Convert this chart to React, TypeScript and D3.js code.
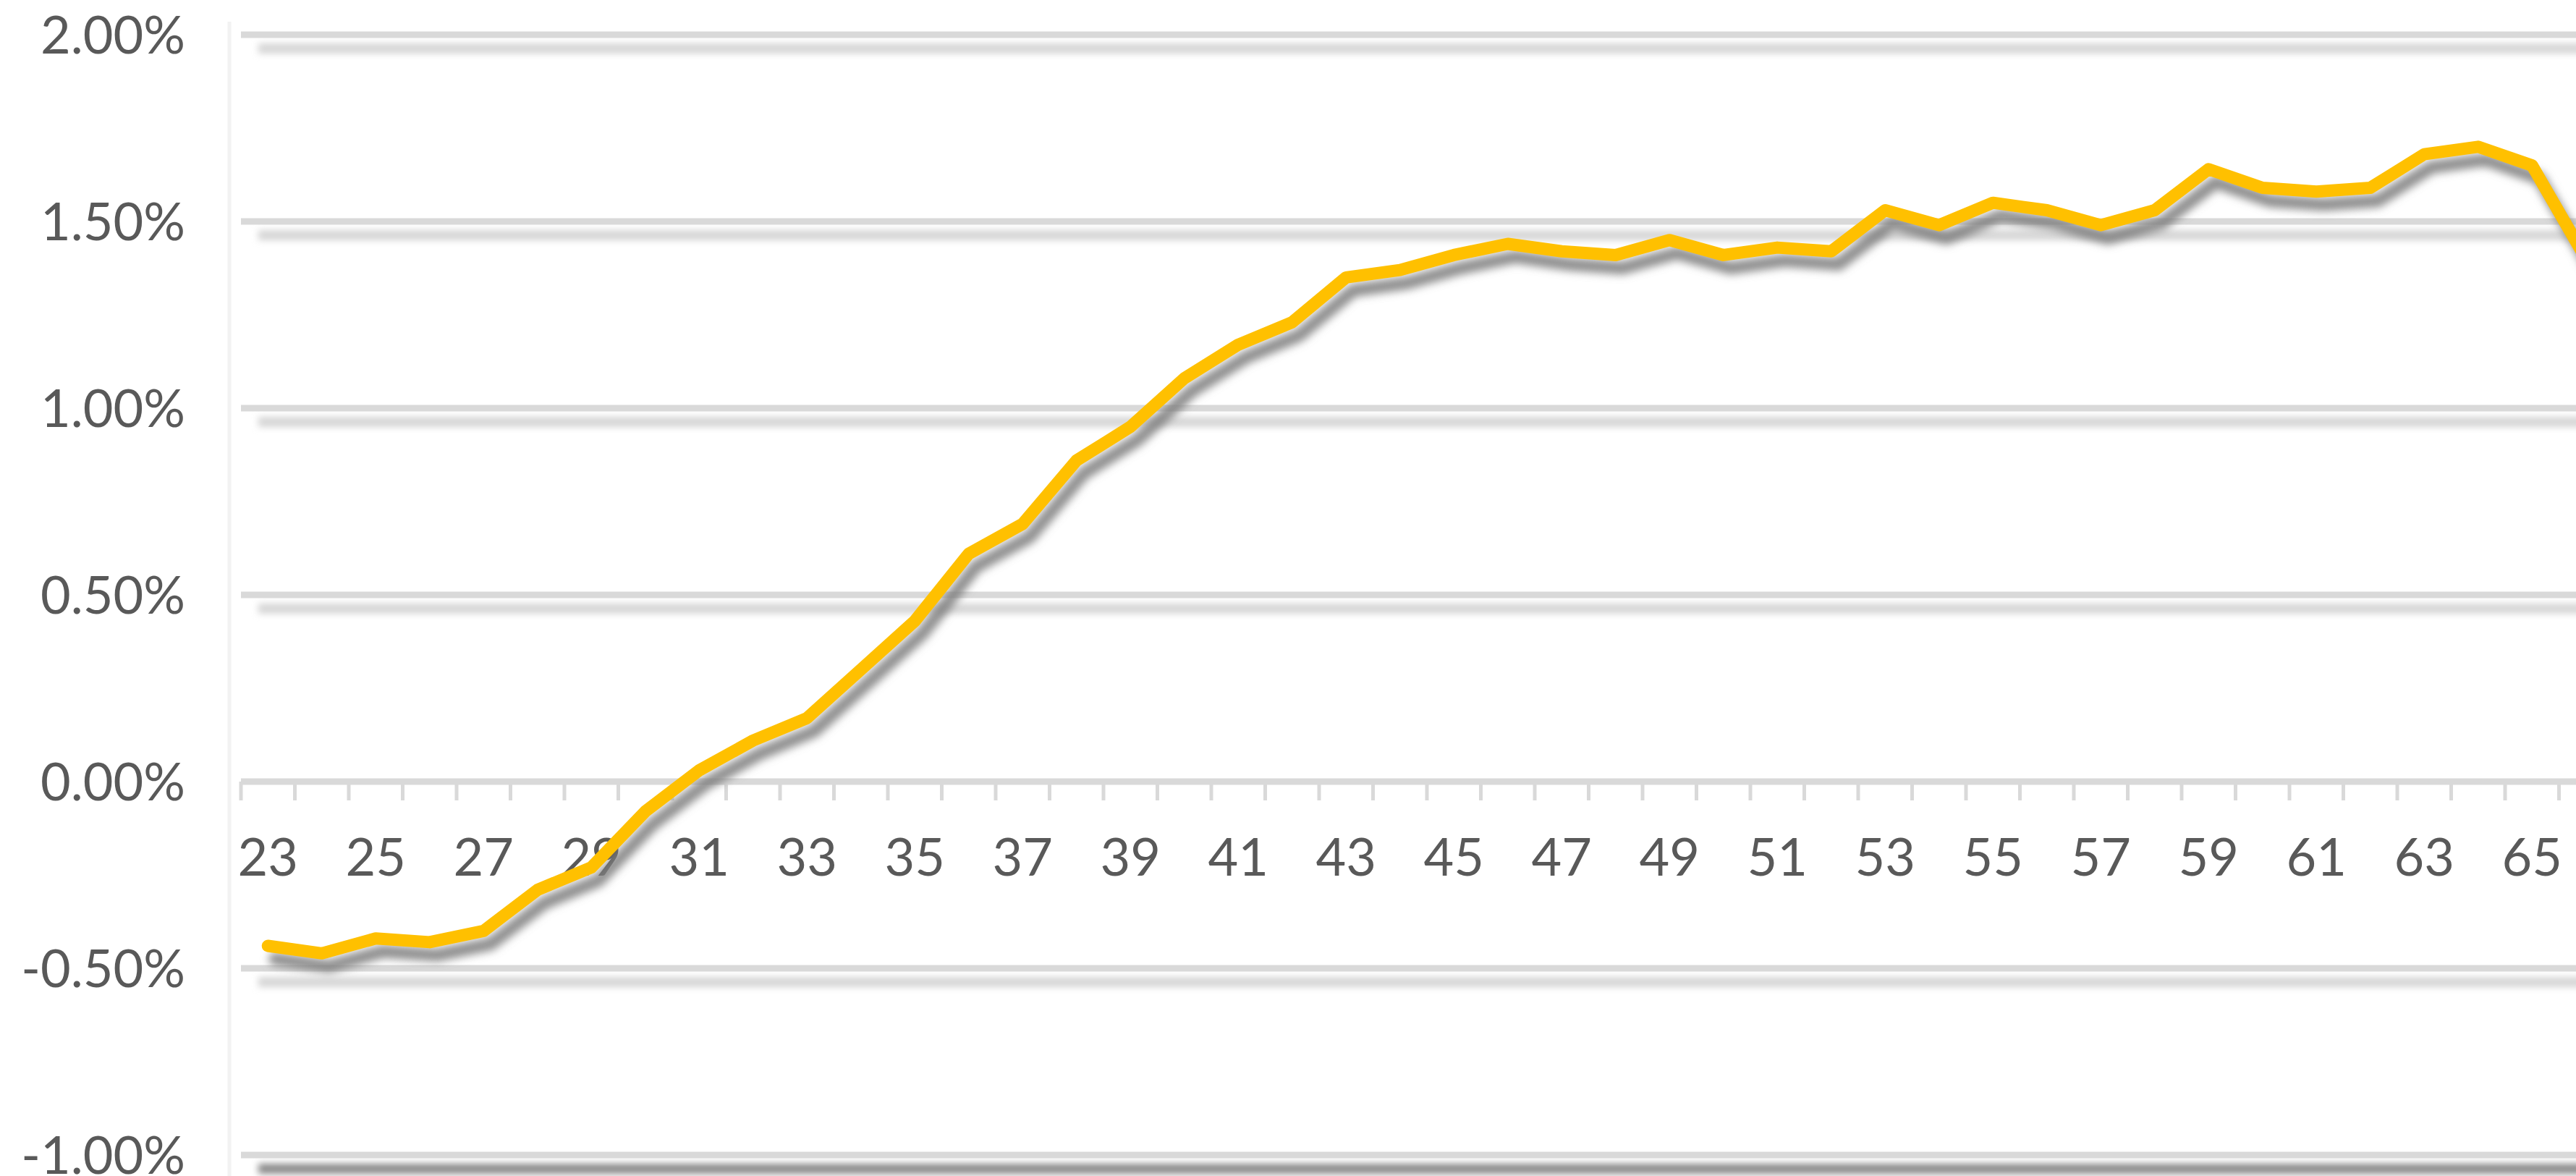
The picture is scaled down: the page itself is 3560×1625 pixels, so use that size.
import React from 'react';
import * as d3 from 'd3';

const categories: number[] = [
  23, 24, 25, 26, 27, 28, 29, 30, 31, 32, 33, 34, 35, 36, 37, 38, 39, 40, 41, 42, 43, 44,
  45, 46, 47, 48, 49, 50, 51, 52, 53, 54, 55, 56, 57, 58, 59, 60, 61, 62, 63, 64, 65, 66,
];

// values in percent
const values: number[] = [
  -0.44, -0.46, -0.42, -0.43, -0.4, -0.29, -0.23, -0.08, 0.03, 0.11, 0.17, 0.3, 0.43, 0.61,
  0.69, 0.86, 0.95, 1.08, 1.17, 1.23, 1.35, 1.37, 1.41, 1.44, 1.42, 1.41, 1.45, 1.41, 1.43,
  1.42, 1.53, 1.49, 1.55, 1.53, 1.49, 1.53, 1.64, 1.59, 1.58, 1.59, 1.68, 1.7, 1.65, 1.4,
];

const yTicks: number[] = [-1, -0.5, 0, 0.5, 1, 1.5, 2];
const xLabelCats: number[] = categories.filter((c) => c % 2 === 1);

const W = 3560;
const H = 1625;
const LEFT = 333;
const BAND = 74.5;

export default function App() {
  const x = d3
    .scaleBand<number>()
    .domain(categories)
    .range([LEFT, LEFT + BAND * categories.length])
    .padding(0);
  const y = d3.scaleLinear().domain([-1, 2]).range([1596, 48]);
  const cx = (c: number) => (x(c) as number) + x.bandwidth() / 2;

  const lineGen = d3
    .line<number>()
    .x((_, i) => cx(categories[i]))
    .y((d) => y(d));
  const path = lineGen(values) || '';

  const fmt = (v: number) => v.toFixed(2) + '%';
  const font = 'Lato, "Open Sans", sans-serif';
  const textColor = '#595959';
  const gridColor = '#d9d9d9';
  const right = W + 50;

  return (
    <svg
      width={W}
      height={H}
      viewBox={`0 0 ${W} ${H}`}
      style={{ position: 'fixed', left: 0, top: 0, background: '#ffffff' }}
    >
      <defs>
        <filter id="blurLine" filterUnits="userSpaceOnUse" x={0} y={0} width={W} height={H}>
          <feGaussianBlur stdDeviation="6" />
        </filter>
        <filter id="blurGrid" filterUnits="userSpaceOnUse" x={0} y={0} width={W} height={H}>
          <feGaussianBlur stdDeviation="5" />
        </filter>
      </defs>
      <rect x={0} y={0} width={W} height={H} fill="#ffffff" />
      {/* faint plot border */}
      <line x1={LEFT - 16} x2={LEFT - 16} y1={30} y2={H} stroke="#f2f2f2" strokeWidth={5} />

      {/* gridline shadows */}
      {yTicks.map((t) =>
        t === 0 ? null : (
          <line
            key={'gs' + t}
            x1={LEFT + 24}
            x2={right}
            y1={y(t) + 19}
            y2={y(t) + 19}
            stroke={t === -1 ? '#8a8a8a' : '#d6d6d6'}
            strokeOpacity={1}
            strokeWidth={14}
            filter="url(#blurGrid)"
          />
        )
      )}
      {/* gridlines */}
      {yTicks.map((t) => (
        <line
          key={'g' + t}
          x1={LEFT}
          x2={right}
          y1={y(t)}
          y2={y(t)}
          stroke={gridColor}
          strokeWidth={9}
        />
      ))}
      {/* ticks on horizontal axis */}
      {categories.map((c) => (
        <line
          key={'t' + c}
          x1={x(c) as number}
          x2={x(c) as number}
          y1={y(0)}
          y2={y(0) + 26}
          stroke={gridColor}
          strokeWidth={5}
        />
      ))}

      {/* y labels */}
      {yTicks.map((t) => (
        <text
          key={'yl' + t}
          x={256}
          y={y(t) + 26}
          textAnchor="end"
          fontFamily={font}
          fontSize={72}
          fill={textColor}
        >
          {fmt(t)}
        </text>
      ))}
      {/* x labels */}
      {xLabelCats.map((c) => (
        <text
          key={'xl' + c}
          x={cx(c)}
          y={1210}
          textAnchor="middle"
          fontFamily={font}
          fontSize={72}
          fill={textColor}
        >
          {String(c)}
        </text>
      ))}

      {/* line shadow */}
      <path
        d={path}
        transform="translate(10,18)"
        fill="none"
        stroke="#7c7c7c"
        strokeOpacity={0.85}
        strokeWidth={18}
        strokeLinejoin="round"
        strokeLinecap="round"
        filter="url(#blurLine)"
      />
      {/* line */}
      <path
        d={path}
        fill="none"
        stroke="#ffc000"
        strokeWidth={17}
        strokeLinejoin="round"
        strokeLinecap="round"
      />
    </svg>
  );
}
